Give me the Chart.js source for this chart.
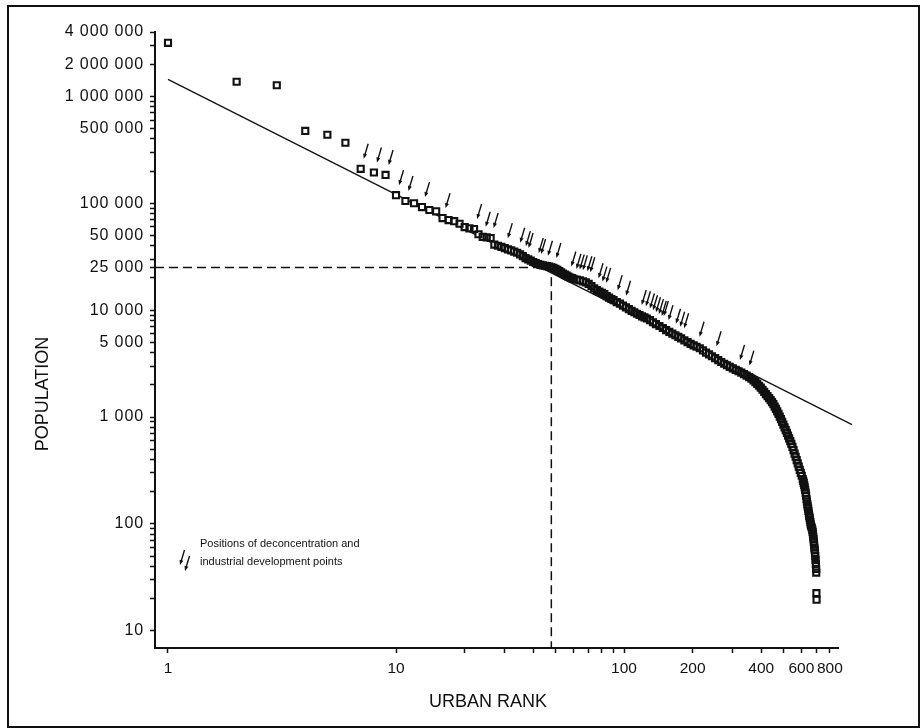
<!DOCTYPE html>
<html>
<head>
<meta charset="utf-8">
<title>Urban rank and population</title>
<script src="https://cdn.jsdelivr.net/npm/chart.js@4.4.1/dist/chart.umd.min.js"></script>
<style>
    html, body { margin: 0; padding: 0; background: #fff; }
    #wrap { position: relative; width: 921px; height: 728px; }
    #frame { position: absolute; left: 7px; top: 5px; width: 913px; height: 723px; border: 2px solid #111; box-sizing: border-box; }
    #chart { position: absolute; left: 0; top: 0; }
</style>
</head>
<body>
<div id="wrap">
    <div id="frame"></div>
    <canvas id="chart" width="921" height="728"></canvas>
</div>
<script>
// Towns by urban rank
const townRanks = [
    1, 2, 3, 4, 5, 6, 7, 8, 9, 10, 11, 12, 13, 14, 15, 16, 17, 18, 19, 20,
    21, 22, 23, 24, 25, 26, 27, 28, 29, 30, 31, 32, 33, 34, 35, 36, 37, 38, 39, 40,
    41, 42, 43, 44, 45, 46, 47, 48, 49, 50, 51, 52, 53, 54, 55, 56, 57, 58, 59, 60,
    62, 64, 66, 68, 70, 72, 74, 76, 78, 80, 82, 84, 86, 88, 90, 93, 96, 99,
    102, 105, 108, 111, 114, 117, 120, 123, 126, 130, 134, 138, 143, 148, 153, 158, 163, 168, 173, 178,
    184, 190, 196, 202, 208, 215, 222, 229, 236, 243, 251, 259, 267, 275, 283, 291,
    300, 309, 318, 327, 336, 345, 354, 362, 370, 377, 384, 391, 398,
    405, 412, 419, 426, 433, 440, 446, 452, 458, 464, 470, 476, 482, 488, 494, 500,
    506, 512, 518, 524, 530, 536, 542, 548, 554, 560, 566, 572, 578, 584, 590, 596, 602,
    608, 611, 614, 617, 620, 623, 626, 629, 632, 634, 637, 639, 642, 644, 647, 649, 652, 654, 657, 659, 662,
    666, 670, 672, 674, 676, 678, 680, 682, 684, 686, 688, 690, 692, 694, 696, 697, 698, 699
];
const townPops = [
    3170000, 1370000, 1270000, 475000, 437000, 368000, 210000, 194000, 184000, 119000,
    105000, 100000, 92000, 86500, 84000, 72600, 69600, 68000, 64300, 59800,
    58200, 57400, 51300, 48500, 48000, 47300, 41000, 40000, 39000, 38000,
    37000, 36200, 35300, 34400, 33200, 32000, 30700, 29800, 29000, 28200,
    27600, 27000, 26500, 26200, 26000, 25800, 25500, 25200, 24800, 24300,
    23800, 23200, 22600, 22000, 21500, 21000, 20600, 20200, 19900, 19600,
    19300, 19000, 18600, 18200, 17600, 16800, 16000, 15400, 14900, 14500, 14100, 13500, 13100, 12700, 12400, 11900, 11500, 11000,
    10600, 10200, 9850, 9550, 9250, 9000, 8750, 8550, 8350, 8050, 7700, 7400, 7100, 6800, 6500, 6250, 6020, 5820, 5630, 5450,
    5220, 5020, 4830, 4680, 4540, 4400, 4200, 4000, 3850, 3700, 3550, 3400, 3270, 3150, 3050, 2950,
    2850, 2760, 2680, 2600, 2520, 2440, 2360, 2280, 2200, 2120, 2040, 1960, 1880,
    1800, 1720, 1640, 1570, 1500, 1440, 1380, 1320, 1250, 1190, 1130, 1070, 1010, 955, 900, 850,
    800, 755, 710, 670, 630, 595, 560, 525, 490, 455, 425, 395, 368, 343, 320, 300, 282,
    262, 252, 242, 231, 220, 208, 196, 184, 170, 162, 153, 146, 139, 132, 125, 119, 114, 109, 104, 99, 95,
    92, 88, 84, 80, 76, 72, 68, 64, 60, 57, 54, 50, 46, 42, 38, 35, 22.5, 19.5
];

// Rank-size regression line
const fitRanks = [1, 1000];
const fitPops = [1440000, 850];

// 25 000 threshold and the rank where it cuts the curve
const cutoffPop = 25000;
const cutoffRank = 48;

// Deconcentration and industrial development points
const arrowRanks = [
    7, 8, 9, 10, 11, 13, 16, 22, 24, 26, 30, 34, 36, 37, 41, 42, 45, 49,
    57, 60, 62, 64, 67, 69, 75, 78, 81, 91, 99,
    116, 121, 126, 130, 134, 138, 142, 145, 152, 164, 171, 178, 208, 247, 313, 344
];

// Axis ticks
const xLabelValues = [1, 10, 100, 200, 400, 600, 800];
const xMinorValues = [20, 30, 40, 50, 60, 70, 80, 90, 300, 500, 700];
const yLabelValues = [10, 100, 1000, 5000, 10000, 25000, 50000, 100000, 500000, 1000000, 2000000, 4000000];
const yLabelTexts = ['10', '100', '1 000', '5 000', '10 000', '25 000', '50 000', '100 000', '500 000', '1 000 000', '2 000 000', '4 000 000'];
const yMinorValues = [
    20, 30, 40, 50, 60, 70, 80, 90,
    200, 300, 400, 500, 600, 700, 800, 900,
    2000, 3000, 4000, 6000, 7000, 8000, 9000,
    20000, 30000, 40000, 60000, 70000, 80000, 90000,
    200000, 300000, 400000, 600000, 700000, 800000, 900000,
    3000000
];

const xMin = 0.877;
const xMax = 868;
const yMin = 6.9;
const yMax = 4000000;

const FONT = "'Liberation Sans', Arial, Helvetica, sans-serif";
const INK = '#111';

const townPoints = townRanks.map((r, i) => ({ x: r, y: townPops[i] }));
const fitPoints = fitRanks.map((r, i) => ({ x: r, y: fitPops[i] }));
const cutoffPoints = [
    { x: xMin, y: cutoffPop },
    { x: cutoffRank, y: cutoffPop },
    { x: cutoffRank, y: yMin },
];

const nearestPop = (rank) => {
    let best = 0;
    townRanks.forEach((r, i) => {
        if (Math.abs(r - rank) < Math.abs(townRanks[best] - rank)) {
            best = i;
        }
    });
    return townPops[best];
};

const drawArrow = (ctx, tipX, tipY) => {
    const tailX = tipX + 4.5;
    const tailY = tipY - 15;
    const ang = Math.atan2(tipY - tailY, tipX - tailX);
    ctx.beginPath();
    ctx.moveTo(tailX, tailY);
    ctx.lineTo(tipX - 3 * Math.cos(ang), tipY - 3 * Math.sin(ang));
    ctx.stroke();
    ctx.beginPath();
    ctx.moveTo(tipX, tipY);
    ctx.lineTo(tipX - 5 * Math.cos(ang) + 2 * Math.sin(ang), tipY - 5 * Math.sin(ang) - 2 * Math.cos(ang));
    ctx.lineTo(tipX - 5 * Math.cos(ang) - 2 * Math.sin(ang), tipY - 5 * Math.sin(ang) + 2 * Math.cos(ang));
    ctx.closePath();
    ctx.fill();
};

// Wider spacing on the population labels, like the printed figure
const spacingPlugin = {
    id: 'spacing',
    afterLayout(chart) {
        const yScale = chart.scales.y;
        if (yScale._spaced) {
            return;
        }
        const drawLabels = yScale.drawLabels.bind(yScale);
        yScale.drawLabels = (area) => {
            chart.ctx.save();
            chart.ctx.letterSpacing = '0.9px';
            drawLabels(area);
            chart.ctx.restore();
        };
        yScale._spaced = true;
    },
};

const annotationPlugin = {
    id: 'annotations',
    afterDatasetsDraw(chart) {
        const { ctx, scales } = chart;
        ctx.save();
        ctx.strokeStyle = INK;
        ctx.fillStyle = INK;
        ctx.lineWidth = 1.4;
        arrowRanks.forEach((rank) => {
            const px = scales.x.getPixelForValue(rank);
            const py = scales.y.getPixelForValue(nearestPop(rank));
            drawArrow(ctx, px + 3, py - 10);
        });

        // legend
        drawArrow(ctx, 180, 565);
        drawArrow(ctx, 185, 571);
        ctx.font = '11px ' + FONT;
        ctx.textAlign = 'left';
        ctx.textBaseline = 'middle';
        ctx.fillText('Positions of deconcentration and', 200, 544);
        ctx.fillText('industrial development points', 200, 562);

        // axis titles
        ctx.font = '18px ' + FONT;
        ctx.textAlign = 'center';
        ctx.fillText('URBAN RANK', 488, 702);
        ctx.translate(43, 394);
        ctx.rotate(-Math.PI / 2);
        ctx.fillText('POPULATION', 0, 0);
        ctx.restore();
    },
};

new Chart(document.getElementById('chart'), {
    type: 'scatter',
    data: {
        datasets: [
            {
                data: townPoints,
                pointStyle: 'rect',
                pointRadius: 4.3,
                pointBorderWidth: 2.1,
                pointBackgroundColor: 'rgba(0,0,0,0)',
                pointBorderColor: INK,
            },
            {
                data: townPoints,
                pointStyle: 'rect',
                pointRadius: 4.3,
                pointBorderWidth: 0,
                pointBackgroundColor: '#fff',
            },
            {
                data: fitPoints,
                showLine: true,
                pointRadius: 0,
                borderColor: INK,
                borderWidth: 1.3,
                clip: false,
            },
            {
                data: cutoffPoints,
                showLine: true,
                pointRadius: 0,
                borderColor: INK,
                borderWidth: 1.5,
                borderDash: [9, 5],
            },
        ],
    },
    options: {
        responsive: false,
        animation: false,
        events: [],
        layout: {
            autoPadding: false,
            padding: { top: 32, right: 83, left: 0, bottom: 0 },
        },
        plugins: {
            legend: { display: false },
            tooltip: { enabled: false },
        },
        scales: {
            x: {
                type: 'logarithmic',
                min: xMin,
                max: xMax,
                border: { display: true, color: INK, width: 2 },
                grid: { drawOnChartArea: false, drawTicks: true, tickLength: 5, tickColor: INK, tickWidth: 1.5 },
                ticks: {
                    autoSkip: false,
                    maxRotation: 0,
                    minRotation: 0,
                    padding: 6,
                    color: INK,
                    font: { family: FONT, size: 15.5 },
                    callback: (value) => (xLabelValues.includes(value) ? String(value) : ''),
                },
                afterBuildTicks: (scale) => {
                    scale.ticks = xLabelValues.concat(xMinorValues)
                        .sort((a, b) => a - b)
                        .map((v) => ({ value: v }));
                },
                afterFit: (scale) => {
                    scale.height = 80;
                },
            },
            y: {
                type: 'logarithmic',
                min: yMin,
                max: yMax,
                border: { display: true, color: INK, width: 2 },
                grid: { drawOnChartArea: false, drawTicks: true, tickLength: 5, tickColor: INK, tickWidth: 1.5 },
                ticks: {
                    autoSkip: false,
                    padding: 6,
                    color: INK,
                    font: { family: FONT, size: 16 },
                    callback: (value) => {
                        const i = yLabelValues.indexOf(value);
                        return i >= 0 ? yLabelTexts[i] : '';
                    },
                },
                afterBuildTicks: (scale) => {
                    scale.ticks = yLabelValues.concat(yMinorValues)
                        .sort((a, b) => a - b)
                        .map((v) => ({ value: v }));
                },
                afterFit: (scale) => {
                    scale.width = 155;
                },
            },
        },
    },
    plugins: [spacingPlugin, annotationPlugin],
});
</script>
</body>
</html>
